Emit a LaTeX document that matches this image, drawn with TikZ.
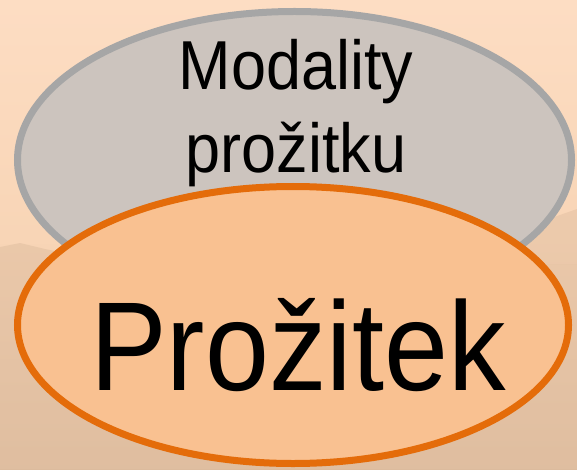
\documentclass[tikz,border=0pt]{standalone}
\usepackage{fontspec}
\setmainfont{Liberation Sans}
\usetikzlibrary{shapes.geometric}
\definecolor{bgtop}{HTML}{FDDDC3}
\definecolor{bgmid}{HTML}{F8D5B6}
\definecolor{bgbot}{HTML}{DCBB9D}
\definecolor{grayfill}{HTML}{CCC4BE}
\definecolor{grayline}{HTML}{A6A6A6}
\definecolor{orfill}{HTML}{F9C191}
\definecolor{orline}{HTML}{E46C0A}
\tikzset{
  bubble/.style={ellipse, inner sep=0pt, line width=7pt},
  lbl/.style={inner sep=0pt, anchor=base, text=black}
}
\begin{document}
\begin{tikzpicture}[x=1pt,y=1pt]
\useasboundingbox (0,0) rectangle (577,469);
\shade[top color=bgtop, bottom color=bgmid] (0,230) rectangle (577,469);
\shade[top color=bgmid, bottom color=bgbot] (0,0) rectangle (577,230);
\fill[bgbot!80!bgmid, opacity=0.6] (0,0) -- (0,222) -- (20,226) -- (45,220) -- (70,215) -- (110,205) -- (577,205) -- (577,0) -- cycle;
\fill[bgbot!80!bgmid, opacity=0.5] (480,205) -- (520,240) -- (577,260) -- (577,205) -- cycle;
\node[bubble, draw=grayline, fill=grayfill, minimum width=554pt, minimum height=297pt] (modal) at (294.5,309) {};
\node[bubble, draw=orline, fill=orfill, minimum width=551pt, minimum height=277pt] (proz) at (293,144) {};
\node[lbl, font=\fontsize{63}{63}\selectfont, yscale=1.1, transform shape] (t1) at (296,379) {Modality};
\node[lbl, font=\fontsize{63}{63}\selectfont, yscale=1.1, transform shape] (t2) at (296,296) {prožitku};
\node[lbl, font=\fontsize{115}{115}\selectfont, yscale=1.1, transform shape] (t3) at (298,79) {Prožitek};
\end{tikzpicture}
\end{document}
